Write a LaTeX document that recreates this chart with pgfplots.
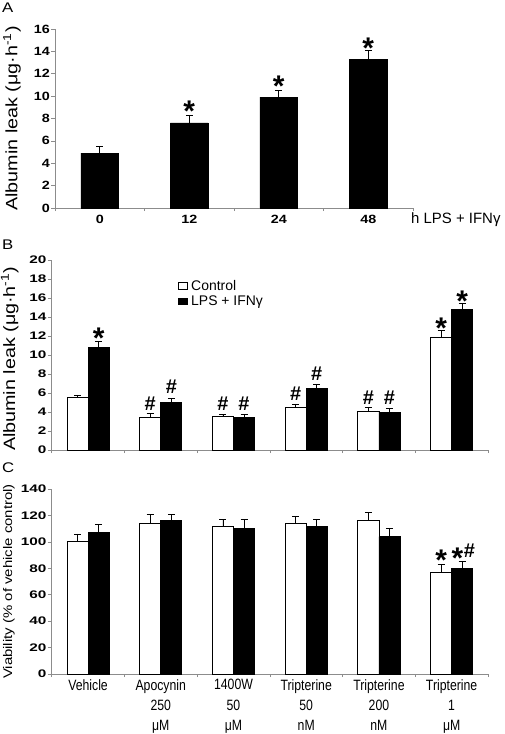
\documentclass[border=0pt]{standalone}
\usepackage{fontspec}
\setmainfont{Liberation Sans}
\newfontfamily\wide[FakeStretch=1.2]{Liberation Sans}
\newfontfamily\tickA[FakeStretch=1.2]{Liberation Sans}
\newfontfamily\tickB[FakeStretch=1.4]{Liberation Sans}
\newfontfamily\narrow[FakeStretch=0.82]{Liberation Sans}
\usepackage{pgfplots}
\pgfplotsset{compat=1.18}
\usepackage{pgfplotstable}

\pgfplotstableread{
x y e
0 4.9 0.6
1 7.6 0.7
2 9.9 0.6
3 13.3 0.8
}\dataA

\pgfplotstableread{
x y e
0 5.5 0.3
1 3.4 0.45
2 3.5 0.2
3 4.5 0.35
4 4.1 0.4
5 11.9 0.7
}\ctrlB
\pgfplotstableread{
x y e
0 10.8 0.6
1 5.0 0.45
2 3.4 0.3
3 6.5 0.4
4 4.0 0.4
5 14.8 0.6
}\lpsB

\pgfplotstableread{
x y e
0 100 6
1 114 7
2 112 5
3 114 5
4 116 6
5 77 6
}\ctrlC
\pgfplotstableread{
x y e
0 107 6
1 116 5
2 110 7
3 112 5
4 104 6.5
5 80 5.3
}\lpsC

\definecolor{axgray}{RGB}{140,140,140}

\pgfplotsset{
  common/.style={
    scale only axis,
    anchor=south west,
    axis lines*=left,
    axis line style={axgray, line width=0.7bp},
    tick align=outside,
    major tick length=4bp,
    minor tick length=3bp,
    ytick style={axgray, line width=0.6bp},
    major x tick style={draw=none},
    minor x tick style={axgray, line width=0.6bp},
    /pgf/number format/assume math mode=true,
    ymin=0, xmin=-0.5,
    enlargelimits=false,
    clip=false,
    yticklabel style={inner sep=1bp},
  },
  errs/.style={
    error bars/.cd, y dir=plus, y explicit,
    error bar style={black, line width=0.8bp},
    error mark options={black, line width=0.8bp, mark size=3.5bp, rotate=90},
  },
  ctrlbar/.style={ybar, bar width=0.29, bar shift=0, fill=white, draw=black, line width=0.8bp,
    legend image code/.code={\draw[fill=white,draw=black,line width=0.8bp] (0bp,-3.2bp) rectangle (9bp,3.2bp);}},
  lpsbar/.style={ybar, bar width=0.29, bar shift=0, fill=black, draw=black, line width=0.8bp,
    legend image code/.code={\draw[fill=black,draw=black,line width=0.8bp] (0bp,-3.2bp) rectangle (9bp,3.2bp);}},
  annot/.style={forget plot, only marks, mark=*, mark size=0pt, mark options={draw=none,fill=none},
    point meta=explicit symbolic, nodes near coords,
    every node near coord/.append style={anchor=base, inner sep=0pt, text=black}},
  stars/.style={annot, every node near coord/.append style={font=\fontsize{30}{30}\selectfont\bfseries, yshift=-16.5bp}},
  hashes/.style={annot, every node near coord/.append style={font=\fontsize{20}{20}\selectfont\bfseries, yshift=-7.2bp}},
}

\begin{document}
\begin{tikzpicture}[x=1bp,y=1bp]
\useasboundingbox (0,0) rectangle (505,-734);

\node[anchor=north west, inner sep=0, font=\wide\fontsize{14}{14}\selectfont] at (2,-3) {A};
\node[anchor=north west, inner sep=0, font=\wide\fontsize{14}{14}\selectfont] at (2,-240) {B};
\node[anchor=north west, inner sep=0, font=\wide\fontsize{14}{14}\selectfont] at (2,-463) {C};

% Panel A
\begin{axis}[common,
  at={(55bp,-208bp)}, width=358bp, height=179bp,
  xmax=3.5, ymax=16,
  ytick={0,2,...,16},
  xtick={0,1,2,3}, xticklabels={0,12,24,48},
  minor xtick={-0.5,0.5,1.5,2.5,3.5},
  yticklabel style={font=\tickA\bfseries\fontsize{12}{12}\selectfont},
  xticklabel style={font=\tickA\bfseries\fontsize{12}{12}\selectfont},
  ylabel={Albumin leak (μg·h\textsuperscript{-1})},
  ylabel style={font=\wide\fontsize{16.5}{18}\selectfont, at={(axis description cs:-0.12,0.5)}, anchor=center, rotate=0},
]
\addplot[ybar, bar width=0.42, fill=black, draw=black, line width=0.8bp, errs] table[x=x, y=y, y error=e] {\dataA};
\addplot[stars] coordinates {(1,9.2) [*] (2,11.4) [*] (3,14.85) [*]};
\end{axis}
\node[anchor=west, inner sep=0, font=\fontsize{15}{15}\selectfont] at (411,-220) {h LPS + IFNγ};

% Panel B
\begin{axis}[common,
  at={(51.7bp,-450bp)}, width=436.3bp, height=190bp,
  xmax=5.5, ymax=20,
  ytick={0,2,...,20},
  xtick={0,...,5}, xticklabels={},
  minor xtick={-0.5,0.5,...,5.5},
  yticklabel style={font=\tickB\bfseries\fontsize{11}{12}\selectfont},
  ylabel={Albumin leak (μg·h\textsuperscript{-1})},
  ylabel style={font=\wide\fontsize{16.5}{18}\selectfont, at={(axis description cs:-0.096,0.48)}, anchor=center, rotate=0},
  legend style={at={(0.29,0.9)}, anchor=north west, draw=none, fill=none,
    font=\fontsize{14}{14}\selectfont, row sep=2bp, inner sep=0pt,
    nodes={inner xsep=3bp, inner ysep=1bp}},
  legend cell align=left,
]
\addplot[ctrlbar, errs] table[x expr=\thisrow{x}-0.145, y=y, y error=e] {\ctrlB};
\addlegendentry{Control}
\addplot[lpsbar, errs] table[x expr=\thisrow{x}+0.145, y=y, y error=e] {\lpsB};
\addlegendentry{LPS + IFNγ}
\addplot[stars] coordinates {(0.145,12.45) [*] (4.855,13.5) [*] (5.145,16.3) [*]};
\addplot[hashes] coordinates {(0.855,4.9) [\#] (1.145,6.67) [\#] (1.855,4.9) [\#] (2.145,4.9) [\#]
  (2.855,5.96) [\#] (3.145,8.07) [\#] (3.855,5.6) [\#] (4.145,5.6) [\#]};
\end{axis}

% Panel C
\begin{axis}[common,
  at={(51.7bp,-674bp)}, width=436.3bp, height=185bp,
  xmax=5.5, ymax=140,
  ytick={0,20,...,140},
  xtick={0,...,5},
  xticklabels={Vehicle, Apocynin\\250\\μM, 1400W\\50\\μM, Tripterine\\50\\nM, Tripterine\\200\\nM, Tripterine\\1\\μM},
  minor xtick={-0.5,0.5,...,5.5},
  yticklabel style={font=\tickB\bfseries\fontsize{11}{12}\selectfont},
  xticklabel style={font=\narrow\fontsize{15}{20.5}\selectfont, align=center, inner sep=0pt, anchor=north, yshift=-1bp},
  ylabel={Viability (\% of vehicle control)},
  ylabel style={font=\wide\fontsize{12.5}{14}\selectfont, at={(axis description cs:-0.098,0.5)}, anchor=center, rotate=0},
]
\addplot[ctrlbar, errs] table[x expr=\thisrow{x}-0.145, y=y, y error=e] {\ctrlC};
\addplot[lpsbar, errs] table[x expr=\thisrow{x}+0.145, y=y, y error=e] {\lpsC};
\addplot[stars] coordinates {(4.855,90.6) [*] (5.08,92.6) [*]};
\addplot[hashes] coordinates {(5.245,93.8) [\#]};
\end{axis}
\end{tikzpicture}
\end{document}
